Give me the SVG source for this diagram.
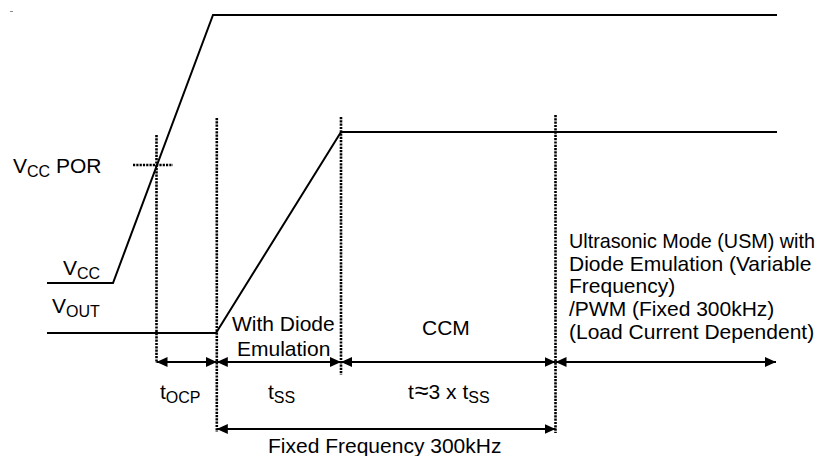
<svg xmlns="http://www.w3.org/2000/svg" width="836" height="456" viewBox="0 0 836 456">
<defs>
<style>
.t{font-family:"Liberation Sans",Arial,sans-serif;font-size:21px;fill:#000}
.s{font-size:16px}
.w{fill:none;stroke:#000;stroke-width:2;stroke-linejoin:miter}
.d{fill:none;stroke:#000;stroke-width:2.6;stroke-dasharray:2.2 1.1}
.a{fill:none;stroke:#000;stroke-width:2;marker-start:url(#ah);marker-end:url(#ah)}
</style>
<marker id="ah" markerUnits="userSpaceOnUse" markerWidth="12" markerHeight="11" refX="11" refY="5" orient="auto-start-reverse" viewBox="0 0 12 10">
<path d="M0,0 L11,5 L0,10 z" fill="#000"/>
</marker>
</defs>
<rect width="836" height="456" fill="#fff"/>
<line x1="10" y1="11.5" x2="13" y2="11.5" stroke="#888" stroke-width="1"/>
<g id="waveforms">
<polyline id="vcc-wave" class="w" points="47,283 113,283 213,15 777,15"/>
<polyline id="vout-wave" class="w" points="47,333 216,333 341,132 777,132"/>
</g>
<g id="markers">
<line class="d" x1="156.5" y1="135" x2="156.5" y2="363"/>
<line class="d" x1="216.8" y1="118" x2="216.8" y2="432"/>
<line class="d" x1="341" y1="117" x2="341" y2="375"/>
<line class="d" x1="555.5" y1="115" x2="555.5" y2="433"/>
<line class="d" x1="133" y1="165" x2="173" y2="165"/>
</g>
<g id="connectors">
<line class="a" x1="156.5" y1="362" x2="216.8" y2="362"/>
<line class="a" x1="216.8" y1="362" x2="341" y2="362"/>
<line class="a" x1="341" y1="362" x2="555.5" y2="362"/>
<line class="a" x1="555.5" y1="362" x2="776" y2="362"/>
<line class="a" x1="216.8" y1="429" x2="555.5" y2="429"/>
</g>
<g id="labels">
<text class="t" x="13" y="173">V<tspan class="s" dy="4">CC</tspan><tspan dy="-4"> POR</tspan></text>
<text class="t" x="63" y="275">V<tspan class="s" dy="4">CC</tspan></text>
<text class="t" x="52" y="313">V<tspan class="s" dy="4">OUT</tspan></text>
<text class="t" x="232" y="331">With Diode</text>
<text class="t" x="237" y="356">Emulation</text>
<text class="t" x="422" y="335">CCM</text>
<text class="t" x="160" y="399">t<tspan class="s" dy="4">OCP</tspan></text>
<text class="t" x="268" y="399">t<tspan class="s" dy="4">SS</tspan></text>
<text class="t" x="408" y="399">t<tspan font-size="25px" dx="1">≈</tspan>3 x t<tspan class="s" dy="4">SS</tspan></text>
<text class="t" x="268" y="453">Fixed Frequency 300kHz</text>
<text class="t" x="569" y="248" textLength="246" lengthAdjust="spacingAndGlyphs">Ultrasonic Mode (USM) with</text>
<text class="t" x="569" y="270.5">Diode Emulation (Variable</text>
<text class="t" x="569" y="293">Frequency)</text>
<text class="t" x="569" y="316">/PWM (Fixed 300kHz)</text>
<text class="t" x="569" y="339">(Load Current Dependent)</text>
</g>
</svg>
